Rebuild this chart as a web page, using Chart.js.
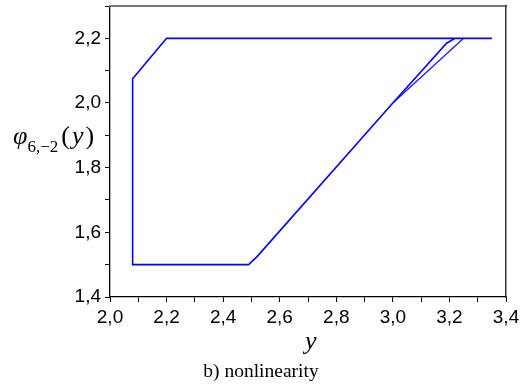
<!DOCTYPE html>
<html>
<head>
<meta charset="utf-8">
<script src="https://cdn.jsdelivr.net/npm/chart.js@4/dist/chart.umd.min.js"></script>
<style>
    html, body { margin: 0; padding: 0; background: #fff; }
    #wrap { position: relative; width: 527px; height: 392px; }
    #chart { position: absolute; left: 0; top: 0; }
    .lbl { position: absolute; font-family: 'Liberation Serif', 'Times New Roman', serif; white-space: nowrap; color: #000; }
    #yTitle { left: 13px; top: 123px; font-size: 26px; line-height: 26px; }
    #yTitle sub { font-size: 17px; font-style: normal; vertical-align: -8px; line-height: 0; }
    #yTitle .par { margin-left: 3px; letter-spacing: 2px; }
    #xTitle { left: 305px; top: 328px; font-size: 26px; line-height: 26px; font-style: italic; }
    #caption { left: 0; width: 522px; text-align: center; top: 361px; font-size: 19.5px; line-height: 20px; }
</style>
</head>
<body>
<div id="wrap">
    <canvas id="chart" width="527" height="392"></canvas>
    <div class="lbl" id="yTitle"><i>φ</i><sub>6,−2</sub><span class="par">(<i>y</i>)</span></div>
    <div class="lbl" id="xTitle">y</div>
    <div class="lbl" id="caption">b) nonlinearity</div>
</div>
<script>
// hysteresis loop
const loopX = [3.35, 2.20, 2.08, 2.08, 2.49, 2.52, 3.00, 3.19, 3.22];
const loopY = [2.20, 2.20, 2.075, 1.50, 1.50, 1.525, 2.00, 2.185, 2.20];
// second (thin) upper branch
const branchX = [3.00, 3.25];
const branchY = [2.00, 2.20];

const xRange = [2.0, 3.4];
const yRange = [1.4, 2.3];

const toPoints = (xs, ys) => xs.map((x, i) => ({ x: x, y: ys[i] }));
const fmt = v => {
    const t = Math.round(v * 10);
    return t % 2 === 0 ? (t / 10).toFixed(1).replace('.', ',') : '';
};

const tickFont = { family: "'Liberation Sans', Arial, sans-serif", size: 19 };

new Chart(document.getElementById('chart').getContext('2d'), {
    type: 'scatter',
    data: {
        datasets: [
            {
                data: toPoints(loopX, loopY),
                showLine: true,
                borderColor: '#0000ff',
                borderWidth: 1.6,
                pointRadius: 0,
                fill: false
            },
            {
                data: toPoints(branchX, branchY),
                showLine: true,
                borderColor: '#1a1aff',
                borderWidth: 1.3,
                pointRadius: 0,
                fill: false
            }
        ]
    },
    options: {
        responsive: false,
        animation: false,
        layout: { padding: 0 },
        plugins: { legend: { display: false }, tooltip: { enabled: false } },
        scales: {
            x: {
                type: 'linear',
                position: 'bottom',
                min: xRange[0],
                max: xRange[1],
                afterFit: s => { s.height = 95; s.paddingLeft = 0; s.paddingRight = 0; },
                ticks: {
                    stepSize: 0.1,
                    autoSkip: false,
                    maxRotation: 0,
                    padding: 4,
                    color: '#000',
                    font: tickFont,
                    callback: v => fmt(v)
                },
                grid: { drawOnChartArea: false, tickLength: 5, color: '#000' },
                border: { color: '#000', width: 1.3 }
            },
            y: {
                type: 'linear',
                position: 'left',
                min: yRange[0],
                max: yRange[1],
                afterFit: s => { s.width = 110; s.paddingTop = 0; s.paddingBottom = 0; },
                ticks: {
                    stepSize: 0.1,
                    autoSkip: false,
                    padding: 4,
                    color: '#000',
                    font: tickFont,
                    callback: v => fmt(v)
                },
                grid: { drawOnChartArea: false, tickLength: 5, color: '#000' },
                border: { color: '#000', width: 1.3 }
            },
            x2: {
                type: 'linear',
                position: 'top',
                min: xRange[0],
                max: xRange[1],
                afterFit: s => { s.height = 6; },
                ticks: { display: false },
                grid: { display: false, drawTicks: false },
                border: { display: true, color: '#777', width: 2 }
            },
            y2: {
                type: 'linear',
                position: 'right',
                min: yRange[0],
                max: yRange[1],
                afterFit: s => { s.width = 21; },
                ticks: { display: false },
                grid: { display: false, drawTicks: false },
                border: { display: true, color: '#333', width: 1.5 }
            }
        }
    }
});
</script>
</body>
</html>
